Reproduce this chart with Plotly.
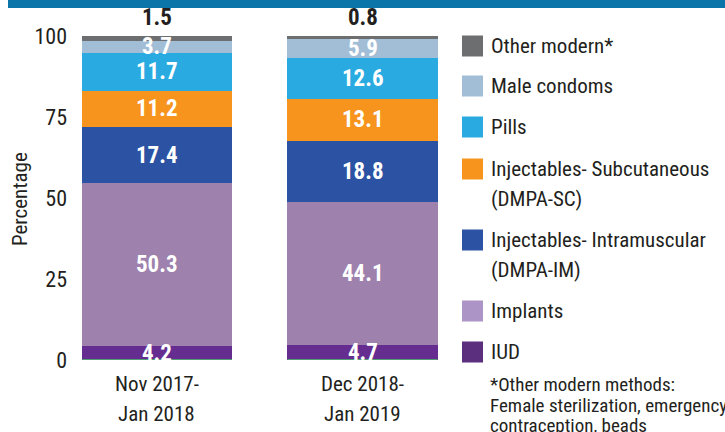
import plotly.graph_objects as go

categories = ["Nov 2017-<br>Jan 2018", "Dec 2018-<br>Jan 2019"]
methods = ["IUD", "Implants", "Injectables- Intramuscular<br>(DMPA-IM)",
           "Injectables- Subcutaneous<br>(DMPA-SC)", "Pills", "Male condoms", "Other modern*"]
values = {
    "IUD": [4.2, 4.7],
    "Implants": [50.3, 44.1],
    "Injectables- Intramuscular<br>(DMPA-IM)": [17.4, 18.8],
    "Injectables- Subcutaneous<br>(DMPA-SC)": [11.2, 13.1],
    "Pills": [11.7, 12.6],
    "Male condoms": [3.7, 5.9],
    "Other modern*": [1.5, 0.8],
}
bar_colors = ["#662D91", "#9E81AD", "#2B52A3", "#F7941D", "#29ABE2", "#A2BDD6", "#6D6E70"]
legend_colors = ["#5B2F7E", "#AC94C6", "#2B52A3", "#F7941D", "#29ABE2", "#A2BDD6", "#6D6E70"]
yticks = [0, 25, 50, 75, 100]
footnote = ["*Other modern methods:", "Female sterilization, emergency", "contraception, beads"]

FONT = "Roboto Condensed, DejaVu Sans Condensed, sans-serif"
TXT = "#231F20"

W, H = 725, 432
L, R, T, B = 76, 285, 36, 72
PW, PH = W - L - R, H - T - B

def px(x):
    return (x - L) / PW

def py(y):
    return (H - B - y) / PH

xs = list(range(len(categories)))
bw = 0.73

fig = go.Figure()
for m, c in zip(methods, bar_colors):
    fig.add_trace(go.Bar(x=xs, y=values[m], name=m, marker=dict(color=c, line=dict(width=0)),
                         width=bw, showlegend=False, hoverinfo="skip"))

annotations = []
shapes = []
for i in xs:
    cum = 0
    for k, m in enumerate(methods):
        v = values[m][i]
        if k == len(methods) - 1:
            top = min(round(cum + v, 3), 100)
            annotations.append(dict(x=i, y=top, xref="x", yref="y", text=f"<b>{v}</b>",
                                    showarrow=False, xanchor="center", yanchor="middle", yshift=19,
                                    font=dict(family=FONT, size=23, color=TXT)))
        else:
            annotations.append(dict(x=i, y=round(cum + v / 2, 3), xref="x", yref="y", text=f"<b>{v}</b>",
                                    showarrow=False, xanchor="center", yanchor="middle",
                                    font=dict(family=FONT, size=23, color="white")))
        cum += v
    shapes.append(dict(type="line", xref="x", yref="y", x0=i - bw / 2, x1=i + bw / 2, y0=0, y1=0,
                       line=dict(color="#4CC36A", width=1.5), layer="above"))
    for j, line in enumerate(categories[i].split("<br>")):
        annotations.append(dict(x=i, y=py(384 + 30 * j), xref="x", yref="paper", text=line,
                                showarrow=False, xanchor="center", yanchor="middle",
                                font=dict(family=FONT, size=21, color=TXT)))

# manual legend (top-to-bottom order)
leg_y = [46, 86, 127, 169, 240, 311, 352]
for m, c, yy in zip(methods[::-1], legend_colors[::-1], leg_y):
    shapes.append(dict(type="rect", xref="paper", yref="paper", x0=px(462), x1=px(483),
                       y0=py(yy + 10.5), y1=py(yy - 10.5), fillcolor=c, line=dict(width=0)))
    for j, line in enumerate(m.split("<br>")):
        annotations.append(dict(x=px(489), y=py(yy + 30 * j), xref="paper", yref="paper",
                                text=line, showarrow=False, xanchor="left", yanchor="middle",
                                font=dict(family=FONT, size=21, color=TXT)))
for j, line in enumerate(footnote):
    annotations.append(dict(x=px(488), y=py(385 + 20 * j), xref="paper", yref="paper",
                            text=line, showarrow=False, xanchor="left", yanchor="middle",
                            font=dict(family=FONT, size=19, color=TXT)))

# top banner
shapes.append(dict(type="rect", xref="paper", yref="paper", x0=px(8), x1=px(730),
                   y0=py(8), y1=py(-5), fillcolor="#0B74A9", line=dict(width=0)))

# y-axis title
annotations.append(dict(x=px(20), y=py(199), xref="paper", yref="paper", text="Percentage",
                        textangle=-90, showarrow=False, xanchor="center", yanchor="middle",
                        font=dict(family=FONT, size=21, color=TXT)))

fig.update_layout(
    barmode="stack",
    width=W, height=H,
    margin=dict(l=L, r=R, t=T, b=B),
    paper_bgcolor="white", plot_bgcolor="white",
    xaxis=dict(range=[-0.394, 1.377], showticklabels=False, showgrid=False, zeroline=False,
               showline=False, ticks=""),
    yaxis=dict(range=[0, 100], tickvals=yticks, showgrid=False, zeroline=False, showline=False,
               ticks="", ticklabelstandoff=8,
               tickfont=dict(family=FONT, size=22, color=TXT)),
    annotations=annotations,
    shapes=shapes,
    showlegend=False,
)

fig.write_html("out.html", config={"displayModeBar": False},
               post_script="document.body.style.margin='0px';")
